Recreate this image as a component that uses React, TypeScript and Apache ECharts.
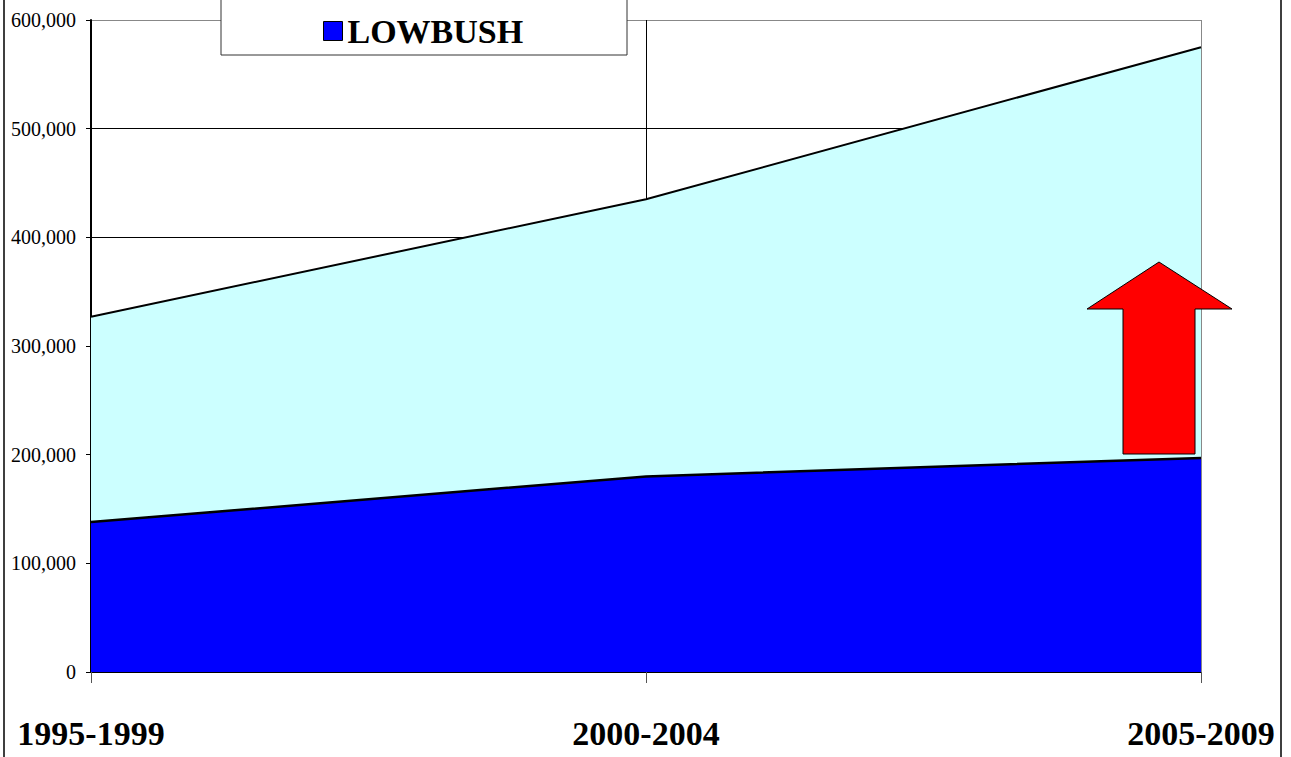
import React, { useEffect, useRef } from "react";
import * as echarts from "echarts";

const categories = ["1995-1999", "2000-2004", "2005-2009"];
const totalValues = [327000, 435000, 575000];
const lowbushValues = [138000, 180000, 197000];
const yTicks = { min: 0, max: 600000, interval: 100000 };
const legendLabel = "LOWBUSH";

const FONT = "'Liberation Serif', 'Times New Roman', serif";

export default function App() {
  const ref = useRef<HTMLDivElement>(null);
  useEffect(() => {
    if (!ref.current) return;
    const chart = echarts.init(ref.current, null, { renderer: "svg" });
    chart.setOption({
      animation: false,
      backgroundColor: "#ffffff",
      grid: { left: 91, right: 90, top: 20, bottom: 85 },
      legend: {
        data: [{ name: legendLabel, icon: "rect" }],
        left: 323,
        top: 14,
        padding: 0,
        itemWidth: 19,
        itemHeight: 19,
        itemGap: 5,
        z: 100,
        itemStyle: { color: "#0000ff", borderColor: "#000", borderWidth: 1 },
        textStyle: { fontFamily: FONT, fontSize: 34, fontWeight: "bold", color: "#000" },
      },
      xAxis: {
        type: "category",
        data: categories,
        boundaryGap: false,
        axisLine: { show: true, lineStyle: { color: "#000", width: 1 } },
        axisTick: { show: true, length: 11, lineStyle: { color: "#555" } },
        axisLabel: {
          margin: 44,
          fontFamily: FONT,
          fontSize: 34,
          fontWeight: "bold",
          color: "#000",
        },
        splitLine: { show: true, lineStyle: { color: ["#000", "#000", "#888"], width: 1 } },
      },
      yAxis: {
        type: "value",
        min: yTicks.min,
        max: yTicks.max,
        interval: yTicks.interval,
        axisLine: { show: true, lineStyle: { color: "#000", width: 2 } },
        axisTick: { show: true, length: 5, lineStyle: { color: "#000" } },
        axisLabel: {
          margin: 15,
          fontFamily: FONT,
          fontSize: 20,
          color: "#000",
          formatter: (v: number) => v.toLocaleString("en-US"),
        },
        splitLine: {
          show: true,
          lineStyle: { color: ["#000", "#000", "#000", "#000", "#000", "#000", "#888"], width: 1 },
        },
      },
      series: [
        {
          name: "TOTAL",
          type: "line",
          data: totalValues,
          showSymbol: false,
          symbol: "none",
          lineStyle: { color: "#000", width: 2 },
          itemStyle: { color: "#ccffff" },
          areaStyle: { color: "#ccffff", opacity: 1 },
          z: 2,
        },
        {
          name: legendLabel,
          type: "line",
          data: lowbushValues,
          showSymbol: false,
          symbol: "none",
          lineStyle: { color: "#000", width: 2.5 },
          itemStyle: { color: "#0000ff" },
          areaStyle: { color: "#0000ff", opacity: 1 },
          z: 3,
        },
      ],
      graphic: [
        {
          type: "rect",
          z: 50,
          shape: { x: 4, y: -5, width: 1277, height: 770 },
          style: { fill: "none", stroke: "#000", lineWidth: 1.5 },
        },
        {
          type: "rect",
          z: 60,
          shape: { x: 221, y: -5, width: 406, height: 60 },
          style: { fill: "#fff", stroke: "#333", lineWidth: 1 },
        },
        {
          type: "polygon",
          z: 55,
          shape: {
            points: [
              [1159, 262],
              [1232, 309],
              [1195, 309],
              [1195, 454],
              [1123, 454],
              [1123, 309],
              [1087, 309],
            ],
          },
          style: { fill: "#ff0000", stroke: "#000", lineWidth: 1 },
        },
      ],
    });
    return () => chart.dispose();
  }, []);
  return (
    <div
      ref={ref}
      style={{ position: "fixed", left: 0, top: 0, width: 1291, height: 757 }}
    />
  );
}
